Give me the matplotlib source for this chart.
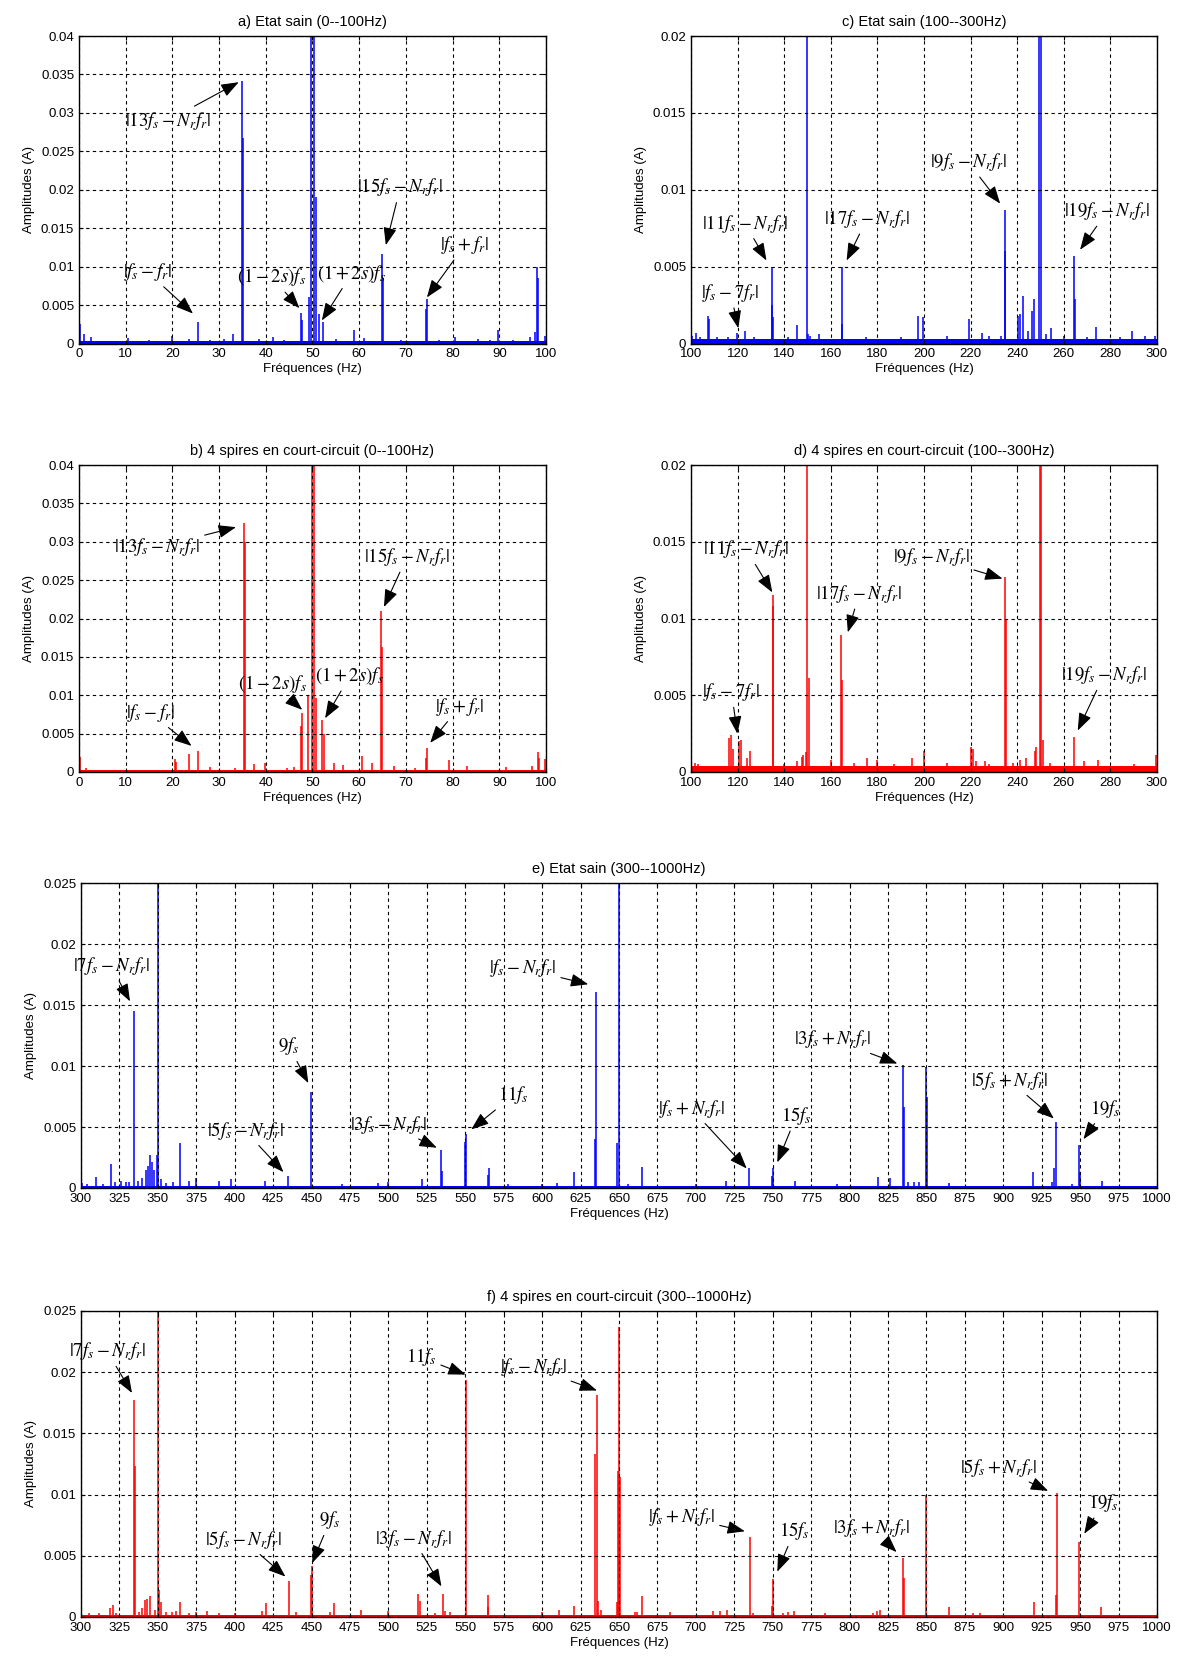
import matplotlib
matplotlib.use('Agg')
from matplotlib import pyplot as plt
from matplotlib.ticker import MultipleLocator, FuncFormatter

plt.rcParams['font.family'] = ['Liberation Sans', 'DejaVu Sans']
plt.rcParams['mathtext.fontset'] = 'stix'

BLUE = '#0000ff'
RED = '#ff0000'

# ---- a) healthy, 0-100 Hz
freq_a = [0.2, 1.0, 2.5, 10.5, 15.0, 20.0, 23.5, 25.5, 28.0, 31.0, 33.0, 34.8, 35.1, 38.5,
          41.5, 44.0, 47.5, 47.8, 49.3, 49.7, 50.3, 50.8, 51.3, 52.2, 55.0, 58.8, 61.0,
          64.8, 65.0, 69.0, 74.3, 74.6, 77.0, 80.5, 85.5, 88.0, 89.7, 93.0, 96.5, 97.6,
          98.0, 98.3, 99.8]
amp_a = [0.0025, 0.0012, 0.0008, 0.0007, 0.0005, 0.001, 0.0006, 0.0028, 0.0005, 0.0006,
         0.0012, 0.0342, 0.0267, 0.0006, 0.0009, 0.0005, 0.004, 0.003, 0.0061, 0.1, 0.1,
         0.0191, 0.0039, 0.0028, 0.0006, 0.0018, 0.0007, 0.0117, 0.0085, 0.0005, 0.0045,
         0.0058, 0.0004, 0.0008, 0.0006, 0.0005, 0.0017, 0.0005, 0.0008, 0.0015, 0.01,
         0.0085, 0.001]

# ---- b) 4 shorted turns, 0-100 Hz
freq_b = [0.2, 1.5, 4.0, 16.5, 20.5, 20.8, 23.5, 25.5, 28.0, 33.5, 35.3, 35.6, 37.5, 39.8,
          44.5, 46.0, 47.5, 47.8, 49.1, 49.8, 50.3, 50.8, 52.0, 52.4, 54.5, 56.5, 60.5,
          62.8, 64.6, 64.9, 67.5, 72.0, 74.3, 74.6, 79.3, 83.0, 87.0, 91.5, 97.0, 98.2,
          98.6, 99.8]
amp_b = [0.002, 0.0005, 0.0003, 0.0003, 0.0017, 0.0013, 0.0023, 0.0028, 0.0006, 0.0005,
         0.0324, 0.030, 0.001, 0.0012, 0.0005, 0.0006, 0.006, 0.0077, 0.01, 0.1, 0.1,
         0.0097, 0.0068, 0.005, 0.0012, 0.0009, 0.0021, 0.0012, 0.021, 0.0163, 0.0008,
         0.0005, 0.0018, 0.0031, 0.0016, 0.0008, 0.0003, 0.0007, 0.0008, 0.0026, 0.0018,
         0.0017]

# ---- c) healthy, 100-300 Hz
freq_c = [100.5, 102.0, 104.0, 107.3, 107.8, 111.0, 116.0, 119.8, 123.0, 127.0, 134.6,
          134.9, 135.4, 141.5, 145.6, 149.7, 150.4, 151.2, 155.0, 164.6, 164.9, 175.0,
          190.0, 197.3, 199.6, 210.0, 219.3, 225.0, 228.0, 233.0, 234.6, 234.9, 240.4,
          241.3, 242.7, 244.5, 246.5, 247.3, 249.5, 250.2, 252.5, 254.5, 260.0, 264.4,
          264.7, 270.0, 273.7, 284.0, 289.5, 295.0, 299.0]
amp_c = [0.0005, 0.0007, 0.0004, 0.0018, 0.0016, 0.0004, 0.0004, 0.0007, 0.0008, 0.0004,
         0.0025, 0.005, 0.0017, 0.0004, 0.0012, 0.1, 0.0006, 0.0005, 0.0006, 0.005, 0.0013,
         0.0004, 0.0004, 0.0018, 0.0017, 0.0005, 0.0016, 0.0007, 0.0005, 0.0005, 0.0087,
         0.006, 0.0018, 0.0019, 0.0031, 0.0008, 0.0021, 0.0029, 0.1, 0.1, 0.0006, 0.001,
         0.0005, 0.0057, 0.0029, 0.0004, 0.0011, 0.0004, 0.0008, 0.0005, 0.0005]

# ---- d) 4 shorted turns, 100-300 Hz
freq_d = [100.1, 101.5, 103.0, 108.0, 112.0, 116.1, 117.3, 118.0, 120.5, 121.5, 124.0,
          125.3, 135.0, 135.3, 140.0, 145.5, 147.5, 148.2, 149.4, 149.8, 150.6, 160.0,
          164.5, 165.0, 170.0, 175.5, 180.0, 187.0, 195.0, 199.8, 210.0, 220.1, 221.2,
          222.5, 226.0, 228.0, 234.8, 235.1, 238.0, 241.0, 244.0, 247.5, 248.2, 249.7,
          250.4, 251.2, 254.0, 264.5, 268.5, 274.5, 280.0, 290.0, 299.8]
amp_d = [0.0019, 0.0006, 0.0005, 0.0004, 0.0004, 0.0022, 0.0024, 0.0015, 0.002, 0.0021,
         0.0009, 0.0014, 0.0115, 0.0108, 0.0005, 0.0007, 0.001, 0.0011, 0.0013, 0.1, 0.0061,
         0.0008, 0.0089, 0.006, 0.0006, 0.0009, 0.0008, 0.0005, 0.0009, 0.0014, 0.0006,
         0.0016, 0.0015, 0.0007, 0.0007, 0.0005, 0.0127, 0.01, 0.0006, 0.0008, 0.0009,
         0.0014, 0.0016, 0.1, 0.1, 0.0021, 0.0006, 0.0023, 0.0007, 0.0008, 0.0004, 0.0005,
         0.0011]

# ---- e) healthy, 300-1000 Hz
freq_e = [300.5, 304.0, 309.5, 314.0, 319.5, 322.0, 326.0, 329.0, 331.5, 334.6, 337.0,
          340.0, 342.0, 343.5, 345.0, 346.5, 347.8, 349.2, 350.0, 352.0, 355.0, 360.0,
          364.6, 370.0, 375.0, 390.0, 397.5, 420.0, 434.5, 449.8, 470.0, 493.0, 500.0,
          522.0, 534.2, 534.8, 549.8, 550.2, 564.5, 565.2, 578.0, 600.0, 610.0, 620.5,
          634.6, 635.0, 649.0, 650.0, 656.0, 664.9, 700.0, 719.5, 734.5, 749.5, 750.0,
          764.5, 792.0, 818.7, 826.0, 834.7, 835.3, 838.0, 842.0, 845.0, 849.5, 850.2,
          865.0, 919.5, 932.0, 933.2, 934.6, 945.0, 949.3, 949.8, 964.0]
amp_e = [0.0004, 0.0003, 0.0009, 0.0003, 0.002, 0.0005, 0.0006, 0.0005, 0.0005, 0.0145,
         0.0006, 0.0008, 0.0015, 0.0018, 0.0027, 0.0021, 0.0015, 0.0027, 0.1, 0.0007,
         0.0004, 0.0005, 0.0037, 0.0006, 0.0008, 0.0006, 0.0007, 0.0006, 0.001, 0.0079,
         0.0003, 0.0004, 0.0005, 0.0007, 0.0031, 0.0014, 0.0038, 0.0044, 0.0011, 0.0016,
         0.0003, 0.0003, 0.0004, 0.0013, 0.004, 0.0161, 0.0037, 0.1, 0.0003, 0.0017, 0.0003,
         0.0006, 0.0016, 0.001, 0.0016, 0.0006, 0.0003, 0.0009, 0.0008, 0.0101, 0.0066,
         0.0005, 0.0005, 0.0005, 0.0099, 0.0075, 0.0004, 0.0013, 0.0005, 0.0016, 0.0054,
         0.0003, 0.0035, 0.0013, 0.0006]

# ---- f) 4 shorted turns, 300-1000 Hz
freq_f = [300.2, 305.0, 312.0, 319.0, 320.5, 323.0, 334.7, 335.3, 338.0, 340.0, 341.5,
          343.0, 345.0, 348.0, 350.0, 351.0, 352.0, 355.0, 359.0, 362.0, 364.6, 370.0,
          375.0, 382.0, 390.0, 400.0, 418.0, 420.5, 435.2, 440.0, 449.5, 450.0, 462.0,
          464.3, 482.0, 500.0, 519.5, 520.5, 530.0, 535.2, 537.0, 540.0, 550.2, 564.5,
          564.9, 575.0, 600.0, 606.0, 611.3, 620.8, 634.7, 635.4, 636.5, 638.0, 648.5,
          649.3, 649.8, 650.4, 660.5, 662.0, 664.9, 670.0, 683.0, 711.0, 716.0, 720.2,
          735.1, 737.0, 749.5, 750.0, 757.0, 760.0, 764.0, 784.0, 815.0, 818.0, 820.0,
          834.9, 835.5, 849.8, 864.6, 880.0, 885.0, 919.7, 934.1, 934.9, 949.6, 963.9,
          985.0]
amp_f = [0.0008, 0.0003, 0.0003, 0.0007, 0.001, 0.0003, 0.0177, 0.0123, 0.0004, 0.0007,
         0.0014, 0.0015, 0.0017, 0.0006, 0.1, 0.0022, 0.0012, 0.0004, 0.0004, 0.0005,
         0.0012, 0.0003, 0.0004, 0.0005, 0.0003, 0.0003, 0.0005, 0.0011, 0.0029, 0.0004,
         0.0034, 0.0042, 0.0004, 0.0011, 0.0006, 0.0005, 0.0019, 0.0013, 0.0003, 0.0019,
         0.0005, 0.0004, 0.0194, 0.0008, 0.0018, 0.0002, 0.0004, 0.0002, 0.0006, 0.0009,
         0.0133, 0.0181, 0.0013, 0.0006, 0.0012, 0.0119, 0.0237, 0.0114, 0.0004, 0.0004,
         0.0017, 0.0002, 0.0004, 0.0005, 0.0005, 0.0006, 0.0065, 0.0003, 0.0009, 0.0031,
         0.0003, 0.0004, 0.0005, 0.0003, 0.0003, 0.0005, 0.0006, 0.0048, 0.0032, 0.01,
         0.0008, 0.0003, 0.0003, 0.0012, 0.0018, 0.0101, 0.0061, 0.0008, 0.0002]

# noise floor level of each spectrum
floor_a, floor_b, floor_c, floor_d, floor_e, floor_f = 0.0003, 0.0003, 0.0003, 0.0004, 0.00015, 0.00015

# annotations: label, peak (x, y), text centre (x, y)
ann_a = [(r'$|13f_s-N_rf_r|$', 34.2, 0.034, 19.0, 0.029),
         (r'$|f_s-f_r|$', 24.4, 0.0039, 14.7, 0.0093),
         (r'$(1-2s)f_s$', 47.2, 0.0046, 41.3, 0.0086),
         (r'$(1+2s)f_s$', 52.0, 0.003, 58.4, 0.0091),
         (r'$|15f_s-N_rf_r|$', 65.7, 0.0128, 68.8, 0.0203),
         (r'$|f_s+f_r|$', 74.5, 0.006, 82.6, 0.0128)]
ann_b = [(r'$|13f_s-N_rf_r|$', 33.6, 0.0319, 16.8, 0.0293),
         (r'$|f_s-f_r|$', 24.1, 0.0034, 15.2, 0.0077),
         (r'$(1-2s)f_s$', 47.8, 0.0081, 41.5, 0.0115),
         (r'$(1+2s)f_s$', 52.7, 0.007, 58.0, 0.0125),
         (r'$|15f_s-N_rf_r|$', 65.3, 0.0215, 70.2, 0.028),
         (r'$|f_s+f_r|$', 75.2, 0.0038, 81.5, 0.0085)]
ann_c = [(r'$|11f_s-N_rf_r|$', 132.4, 0.0054, 123.2, 0.0078),
         (r'$|f_s-7f_r|$', 120.3, 0.001, 117.0, 0.0033),
         (r'$|17f_s-N_rf_r|$', 166.8, 0.0054, 175.5, 0.0081),
         (r'$|9f_s-N_rf_r|$', 232.7, 0.0091, 219.0, 0.0118),
         (r'$|19f_s-N_rf_r|$', 267.0, 0.0061, 278.7, 0.0086)]
ann_d = [(r'$|11f_s-N_rf_r|$', 134.9, 0.0117, 123.7, 0.0145),
         (r'$|f_s-7f_r|$', 119.9, 0.0025, 117.4, 0.0052),
         (r'$|17f_s-N_rf_r|$', 167.3, 0.0091, 172.2, 0.0116),
         (r'$|9f_s-N_rf_r|$', 233.7, 0.0126, 203.2, 0.014),
         (r'$|19f_s-N_rf_r|$', 266.0, 0.0027, 277.2, 0.0063)]
ann_e = [(r'$|7f_s-N_rf_r|$', 331.9, 0.0153, 319.5, 0.0182),
         (r'$|f_s-N_rf_r|$', 630.0, 0.0167, 587.6, 0.018),
         (r'$9f_s$', 447.9, 0.0086, 435.4, 0.0116),
         (r'$|5f_s-N_rf_r|$', 431.7, 0.0013, 406.8, 0.0047),
         (r'$|3f_s-N_rf_r|$', 531.5, 0.0033, 500.3, 0.0052),
         (r'$11f_s$', 553.9, 0.0048, 581.4, 0.0076),
         (r'$|f_s+N_rf_r|$', 733.1, 0.0016, 697.1, 0.0065),
         (r'$15f_s$', 753.0, 0.0021, 765.4, 0.0059),
         (r'$|3f_s+N_rf_r|$', 831.1, 0.0102, 789.0, 0.0122),
         (r'$|5f_s+N_rf_r|$', 932.9, 0.0057, 904.3, 0.0088),
         (r'$19f_s$', 952.2, 0.004, 966.4, 0.0065)]
ann_f = [(r'$|7f_s-N_rf_r|$', 333.2, 0.0183, 317.0, 0.0217),
         (r'$11f_s$', 550.2, 0.0198, 521.5, 0.0212),
         (r'$|f_s-N_rf_r|$', 635.7, 0.0185, 594.3, 0.0204),
         (r'$|5f_s-N_rf_r|$', 433.0, 0.0033, 405.5, 0.0063),
         (r'$9f_s$', 450.4, 0.0044, 462.1, 0.0079),
         (r'$|3f_s-N_rf_r|$', 534.5, 0.0025, 516.0, 0.0064),
         (r'$|f_s+N_rf_r|$', 731.9, 0.007, 690.9, 0.0082),
         (r'$15f_s$', 753.0, 0.0037, 764.1, 0.007),
         (r'$|3f_s+N_rf_r|$', 830.6, 0.0053, 814.3, 0.0073),
         (r'$|5f_s+N_rf_r|$', 929.2, 0.0103, 896.9, 0.0122),
         (r'$19f_s$', 952.7, 0.0068, 965.1, 0.0093)]


def draw_spectrum(ax, freqs, amps, floor, color, xlim, xstep, ylim, title, notes):
    ax.fill_between(xlim, 0, floor, color=color, lw=0, zorder=2)
    ax.vlines(freqs, 0, amps, color=color, lw=1.1, zorder=2)
    ax.set_xlim(xlim)
    ax.set_ylim(0, ylim)
    ax.xaxis.set_major_locator(MultipleLocator(xstep))
    ax.yaxis.set_major_locator(MultipleLocator(0.005))
    ax.yaxis.set_major_formatter(FuncFormatter(lambda v, p: '%g' % round(v, 4)))
    ax.grid(True, color='k', linestyle=(0, (3, 3)), lw=0.8)
    ax.set_axisbelow(False)
    ax.tick_params(direction='in', length=3, labelsize=9.5, top=True, right=True)
    for s in ax.spines.values():
        s.set_linewidth(1.0)
        s.set_zorder(4)
    ax.set_title(title, fontsize=10.5, pad=7)
    ax.set_xlabel('Fréquences (Hz)', fontsize=9.5, labelpad=2)
    ax.set_ylabel('Amplitudes (A)', fontsize=9.5, labelpad=4)
    for label, px, py, tx, ty in notes:
        ax.annotate(label, xy=(px, py), xytext=(tx, ty), ha='center', va='center',
                    fontsize=13.5, zorder=5,
                    arrowprops=dict(arrowstyle='-|>,head_length=0.8,head_width=0.3',
                                    color='k', lw=0.8, shrinkA=1, shrinkB=0))


fig = plt.figure(figsize=(11.79, 16.62), dpi=100)
ax_a = fig.add_axes([0.0670, 0.7933, 0.3961, 0.1850])
ax_c = fig.add_axes([0.5861, 0.7933, 0.3952, 0.1850])
ax_b = fig.add_axes([0.0670, 0.5355, 0.3961, 0.1847])
ax_d = fig.add_axes([0.5861, 0.5355, 0.3952, 0.1847])
ax_e = fig.add_axes([0.0687, 0.2852, 0.9126, 0.1835])
ax_f = fig.add_axes([0.0687, 0.0271, 0.9126, 0.1841])

draw_spectrum(ax_a, freq_a, amp_a, floor_a, BLUE, (0, 100), 10, 0.04,
              'a) Etat sain (0--100Hz)', ann_a)
draw_spectrum(ax_b, freq_b, amp_b, floor_b, RED, (0, 100), 10, 0.04,
              'b) 4 spires en court-circuit (0--100Hz)', ann_b)
draw_spectrum(ax_c, freq_c, amp_c, floor_c, BLUE, (100, 300), 20, 0.02,
              'c) Etat sain (100--300Hz)', ann_c)
draw_spectrum(ax_d, freq_d, amp_d, floor_d, RED, (100, 300), 20, 0.02,
              'd) 4 spires en court-circuit (100--300Hz)', ann_d)
draw_spectrum(ax_e, freq_e, amp_e, floor_e, BLUE, (300, 1000), 25, 0.025,
              'e) Etat sain (300--1000Hz)', ann_e)
draw_spectrum(ax_f, freq_f, amp_f, floor_f, RED, (300, 1000), 25, 0.025,
              'f) 4 spires en court-circuit (300--1000Hz)', ann_f)

fig.savefig('out.png', dpi=100)
